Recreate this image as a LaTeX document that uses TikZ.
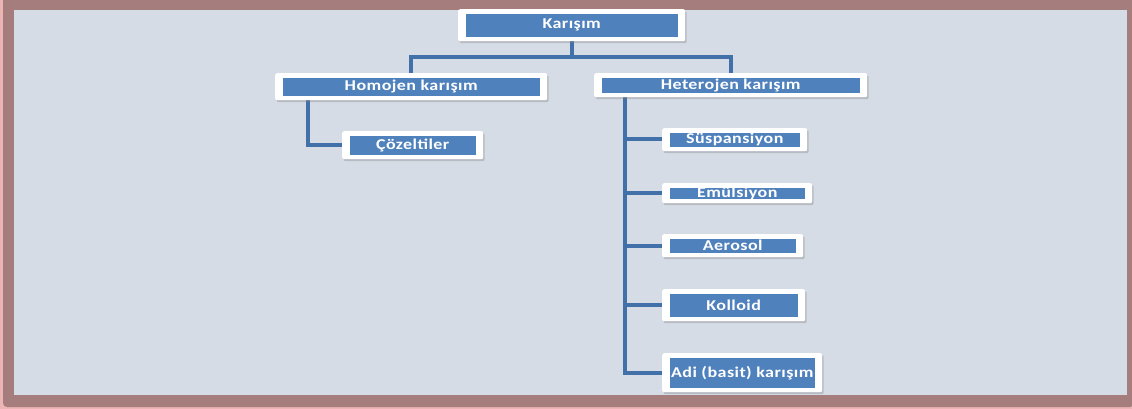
\documentclass[tikz,border=0pt]{standalone}
\usepackage{fontspec}
\newfontfamily\boxfont[FakeStretch=1.2,LetterSpace=3]{Carlito}
\usetikzlibrary{shadows}
\definecolor{boxblue}{HTML}{4F81BD}
\definecolor{connblue}{HTML}{4270A8}
\definecolor{panelbg}{HTML}{D5DCE6}
\definecolor{framerose}{HTML}{A57D7D}
\definecolor{framepink}{HTML}{EBB5B5}

\begin{document}
\begin{tikzpicture}[
	x=1pt, y=-1pt,
	box/.style={fill=white, rounded corners=2pt, anchor=north west, inner sep=0pt,
		text=white, font=\boxfont\bfseries\fontsize{15}{17}\selectfont,
		drop shadow={shadow xshift=1.5pt, shadow yshift=-2pt, opacity=0.35},
		path picture={\fill[boxblue, sharp corners]
			([xshift=7.5pt,yshift=-4.5pt]path picture bounding box.north west) rectangle
			([xshift=-7.5pt,yshift=4.5pt]path picture bounding box.south east);}},
	conn/.style={connblue, line width=4pt}
]
	\useasboundingbox (0,0) rectangle (1132,409);
	% frame and panel
	\fill[framepink] (0,0) rectangle (1132,409);
	\fill[framerose, rounded corners=4pt] (3,-4) rectangle (1134,407);
	\fill[panelbg] (14,10) rectangle (1127,395);

	% connectors
	\coordinate (bus) at (571.5,57);
	\draw[conn] (571.5,30) -- (bus) -| (411,80);
	\draw[conn] (bus) -| (730.5,80);
	\draw[conn] (308,90) |- (412,145);
	\foreach \y in {139.5,193,245.5,305,372.5}
		\draw[conn] (625,90) |- (700,\y);

	% top
	\node[box, minimum width=227pt, minimum height=32pt] (kar) at (458,9) {Karışım};
	% homojen side
	\node[box, minimum width=272pt, minimum height=27pt] (homo) at (275,73) {Homojen karışım};
	\node[box, minimum width=141pt, minimum height=28pt] (coz) at (342,131) {Çözeltiler};
	% heterojen side
	\node[box, minimum width=273pt, minimum height=24pt] (hete) at (594,73) {Heterojen karışım};
	\node[box, minimum width=145pt, minimum height=23pt] (sus) at (662,128) {Süspansiyon};
	\node[box, minimum width=150pt, minimum height=20pt] (emu) at (662,183) {Emülsiyon};
	\node[box, minimum width=141pt, minimum height=23pt] (aer) at (662,234) {Aerosol};
	\node[box, minimum width=143pt, minimum height=32pt] (kol) at (662,289) {Kolloid};
	\node[box, minimum width=160pt, minimum height=39pt] (adi) at (662,353) {Adi (basit) karışım};
\end{tikzpicture}
\end{document}
